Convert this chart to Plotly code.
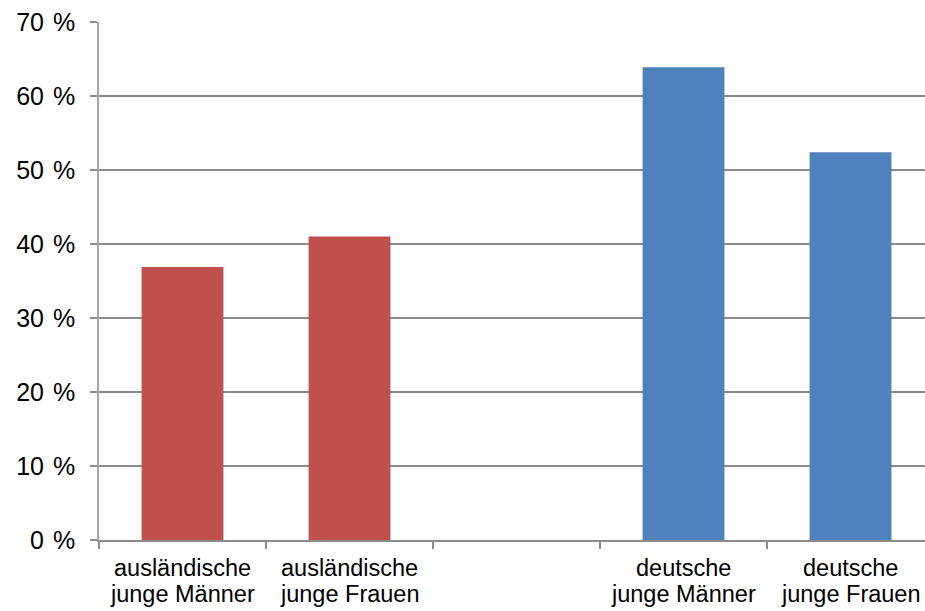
import plotly.graph_objects as go

categories = ["ausländische junge Männer", "ausländische junge Frauen", " ",
              "deutsche junge Männer", "deutsche junge Frauen"]
label_line1 = ["ausländische", "ausländische", "", "deutsche", "deutsche"]
label_line2 = ["junge Männer", "junge Frauen", "", "junge Männer", "junge Frauen"]
foreign_cats = ["ausländische junge Männer", "ausländische junge Frauen"]
foreign_vals = [36.9, 41.0]
german_cats = ["deutsche junge Männer", "deutsche junge Frauen"]
german_vals = [63.9, 52.4]
y_ticks = [0, 10, 20, 30, 40, 50, 60, 70]

fig = go.Figure()
fig.add_trace(go.Bar(x=foreign_cats, y=foreign_vals, marker=dict(color="#C0504D", line=dict(width=0)),
                     showlegend=False, hoverinfo="x+y"))
fig.add_trace(go.Bar(x=german_cats, y=german_vals, marker=dict(color="#4F81BD", line=dict(width=0)),
                     showlegend=False, hoverinfo="x+y"))

font = "Liberation Sans, Arial, sans-serif"
xfont = dict(size=23.5, family=font, color="black")
for cat, l1, l2 in zip(categories, label_line1, label_line2):
    if not l1:
        continue
    fig.add_annotation(x=cat, xref="x", y=0, yref="paper", text=l1, showarrow=False,
                       yanchor="middle", xanchor="center", yshift=-28, font=xfont)
    fig.add_annotation(x=cat, xref="x", y=0, yref="paper", text=l2, showarrow=False,
                       yanchor="middle", xanchor="center", yshift=-54, font=xfont)

fig.update_layout(
    width=925, height=611,
    margin=dict(l=99, r=0, t=22, b=71),
    paper_bgcolor="white", plot_bgcolor="white",
    barmode="overlay", bargap=0.51,
    font=dict(family=font, color="black"),
    xaxis=dict(
        type="category", categoryorder="array", categoryarray=categories,
        range=[-0.5, 4.446], tickson="boundaries",
        ticks="outside", ticklen=7, tickcolor="#8c8c8c", tickwidth=1.5,
        showline=True, linecolor="#8c8c8c", linewidth=2,
        showgrid=False, showticklabels=False,
        fixedrange=True,
    ),
    yaxis=dict(
        range=[0, 70], tickvals=y_ticks, ticktext=[f"{v}\u00a0\u200a%" for v in y_ticks],
        ticks="outside", ticklen=7, tickcolor="#8c8c8c", tickwidth=1.5,
        showline=True, linecolor="#a6a6a6", linewidth=1.5,
        showgrid=True, gridcolor="#8a8a8a", gridwidth=2,
        zeroline=False, tickfont=dict(size=25, family=font, color="black"),
        ticklabelstandoff=10, fixedrange=True,
    ),
)

fig.write_html("out.html")
